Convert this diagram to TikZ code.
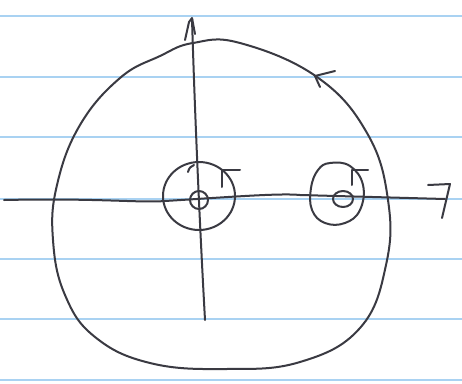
\documentclass[tikz,border=0pt]{standalone}
\begin{document}
\begin{tikzpicture}[x=1pt,y=-1pt,
  pen/.style={draw=ink,line width=2pt,line cap=round,line join=round},
  rule/.style={draw=paperline,line width=1.4pt}]
\definecolor{ink}{HTML}{3A3A42}
\definecolor{paperline}{HTML}{A9D2F2}
\useasboundingbox (0,0) rectangle (462,383);
\fill[white] (0,0) rectangle (462,383);
% ruled paper
\foreach \yy in {16,77,137,199,259,319,380} \draw[rule] (0,\yy) -- (462,\yy);
% axes
\coordinate (xl) at (4,200);
\coordinate (xr) at (445,199);
\coordinate (yt) at (192,19);
\coordinate (yb) at (205,320);
\draw[pen] (xl) .. controls (100,198) and (140,203) .. (165,201)
  .. controls (230,197) and (280,193) .. (300,195) -- (xr);
\draw[pen] (yb) .. controls (200,230) and (195,120) .. (yt);
% axis arrow heads (hand drawn)
\draw[pen] (428,185) -- (450,184) -- (442,218);
\draw[pen] (185,40) -- (189,22) -- (192,18) -- (195,34);
% big contour
\draw[pen] plot[smooth cycle,tension=0.7] coordinates {
  (193,43) (240,43) (317,77) (367,133) (388,200) (386,265)
  (360,328) (300,362) (225,369) (150,363) (95,337) (65,295) (53,240)
  (57,185) (80,125) (120,78) (160,56)};
\draw[pen] (335,71) -- (315,76) -- (320,87);
% small contour around origin
\draw[pen] (199,196) ellipse [x radius=36, y radius=34];
\draw[pen] (199,200) circle [radius=9];
\draw[pen] (240,170) -- (222,170) -- (222,187);
\draw[pen] (188,172) .. controls (189,168) and (191,166) .. (194,165);
% small contour on the right
\draw[pen] plot[smooth cycle,tension=0.7] coordinates {
  (330,163) (350,166) (363,185) (360,210) (345,223) (325,223) (312,210) (311,188) (318,170)};
\draw[pen] (343,199) ellipse [x radius=10, y radius=8];
\draw[pen] (368,170) -- (352,170) -- (352,185);
\end{tikzpicture}
\end{document}
